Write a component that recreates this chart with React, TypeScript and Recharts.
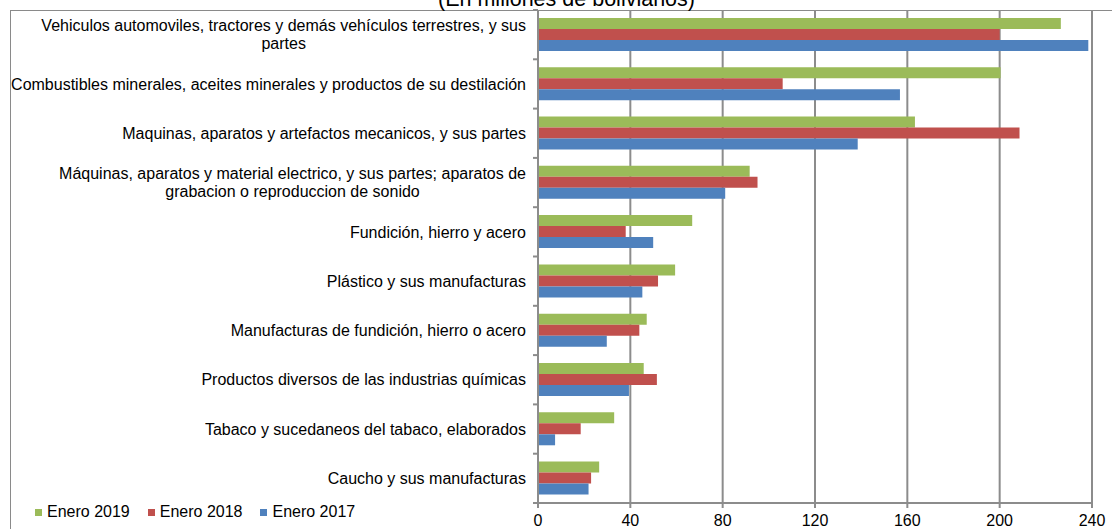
import React from "react";
import { Bar, BarChart, CartesianGrid, XAxis, YAxis } from "recharts";

// categories top to bottom, "\n" marks where the label wraps
const categories = [
  "Vehiculos automoviles, tractores y demás vehículos terrestres, y sus\npartes",
  "Combustibles minerales, aceites minerales y productos de su destilación",
  "Maquinas, aparatos y artefactos mecanicos, y sus partes",
  "Máquinas, aparatos y material electrico, y sus partes; aparatos de\ngrabacion o reproduccion de sonido",
  "Fundición, hierro y acero",
  "Plástico y sus manufacturas",
  "Manufacturas de fundición, hierro o acero",
  "Productos diversos de las industrias químicas",
  "Tabaco y sucedaneos del tabaco, elaborados",
  "Caucho y sus manufacturas",
];
const enero2019 = [226.5, 200.4, 163.3, 91.7, 66.8, 59.4, 47.1, 45.8, 33.0, 26.5];
const enero2018 = [200.0, 106.0, 208.6, 95.1, 38.0, 52.0, 43.9, 51.5, 18.5, 23.0];
const enero2017 = [238.4, 156.8, 138.5, 81.1, 49.9, 45.2, 29.8, 39.4, 7.4, 21.9];
const xTicks = [0, 40, 80, 120, 160, 200, 240];
const title = "(En millones de bolivianos)";

const series = [
  { key: "e2019", name: "Enero 2019", color: "#9BBB59", values: enero2019 },
  { key: "e2018", name: "Enero 2018", color: "#C0504D", values: enero2018 },
  { key: "e2017", name: "Enero 2017", color: "#4F81BD", values: enero2017 },
];

const data = categories.map((name, i) => {
  const row: Record<string, string | number> = { name };
  series.forEach((s) => (row[s.key] = s.values[i]));
  return row;
});

const FONT = '"Liberation Sans", Arial, sans-serif';
const FS = 16;
const AXIS = "#8c8c8c";

let ctx: CanvasRenderingContext2D | null = null;
function textWidth(s: string) {
  if (!ctx) ctx = document.createElement("canvas").getContext("2d");
  if (!ctx) return s.length * FS * 0.5;
  ctx.font = `${FS}px "Liberation Sans"`;
  return ctx.measureText(s).width;
}

function CategoryTick(props: any) {
  const { x, y, payload, index } = props;
  const half = payload?.offset || 24.65;
  const axisX = x + 12;
  const lines = String(payload.value).split("\n");
  const w = Math.max(...lines.map(textWidth));
  const cx = x - w / 2;
  const lh = 18;
  const last = index === categories.length - 1;
  return (
    <g>
      <line x1={axisX - 5} x2={axisX} y1={y - half} y2={y - half} stroke={AXIS} strokeWidth={2} />
      {last && <line x1={axisX - 5} x2={axisX} y1={y + half} y2={y + half} stroke={AXIS} strokeWidth={2} />}
      <text fontSize={FS} fontFamily={FONT} fill="#000" textAnchor="middle">
        {lines.map((l, i) => (
          <tspan key={i} x={cx} y={y + (i - (lines.length - 1) / 2) * lh + FS * 0.355}>
            {l}
          </tspan>
        ))}
      </text>
    </g>
  );
}

export default function App() {
  return (
    <div style={{ position: "absolute", left: 0, top: 0, width: 1112, height: 529, overflow: "hidden", background: "#fff" }}>
      <div
        style={{
          position: "absolute",
          left: 10,
          top: 10,
          width: 1110,
          height: 530,
          borderTop: "1px solid #8a8a8a",
          borderLeft: "1px solid #8a8a8a",
        }}
      />
      <div
        style={{
          position: "absolute",
          left: 566.5,
          top: -11.5,
          transform: "translateX(-50%)",
          fontFamily: FONT,
          fontSize: 21.5,
          lineHeight: "21.5px",
          whiteSpace: "nowrap",
          color: "#000",
        }}
      >
        {title}
      </div>
      <div style={{ position: "absolute", left: 0, top: 0 }}>
        <BarChart
          width={1112}
          height={529}
          data={data}
          layout="vertical"
          margin={{ top: 10, right: 20, bottom: 0, left: 0 }}
          barCategoryGap="16%"
          barGap={0}
        >
          <CartesianGrid horizontal={false} stroke={AXIS} strokeWidth={2} />
          <XAxis
            type="number"
            domain={[0, 240]}
            ticks={xTicks}
            interval={0}
            height={26}
            tickSize={5}
            tickMargin={6.5}
            axisLine={{ stroke: AXIS, strokeWidth: 2 }}
            tickLine={{ stroke: AXIS, strokeWidth: 2 }}
            tick={{ fill: "#000", fontSize: FS, fontFamily: FONT }}
          />
          <YAxis
            type="category"
            dataKey="name"
            width={538}
            interval={0}
            tickSize={5}
            tickMargin={7}
            tickLine={false}
            axisLine={{ stroke: AXIS, strokeWidth: 2 }}
            tick={<CategoryTick />}
          />
          {series.map((s) => (
            <Bar key={s.key} dataKey={s.key} name={s.name} fill={s.color} isAnimationActive={false} />
          ))}
        </BarChart>
      </div>
      <div
        style={{
          position: "absolute",
          left: 35,
          top: 504,
          display: "flex",
          alignItems: "center",
          fontFamily: FONT,
          fontSize: 16,
          lineHeight: "16px",
          color: "#000",
        }}
      >
        {series.map((s) => (
          <div key={s.key} style={{ display: "flex", alignItems: "center", marginRight: 18 }}>
            <span style={{ width: 7, height: 7, background: s.color, marginRight: 5, display: "inline-block" }} />
            <span>{s.name}</span>
          </div>
        ))}
      </div>
    </div>
  );
}
